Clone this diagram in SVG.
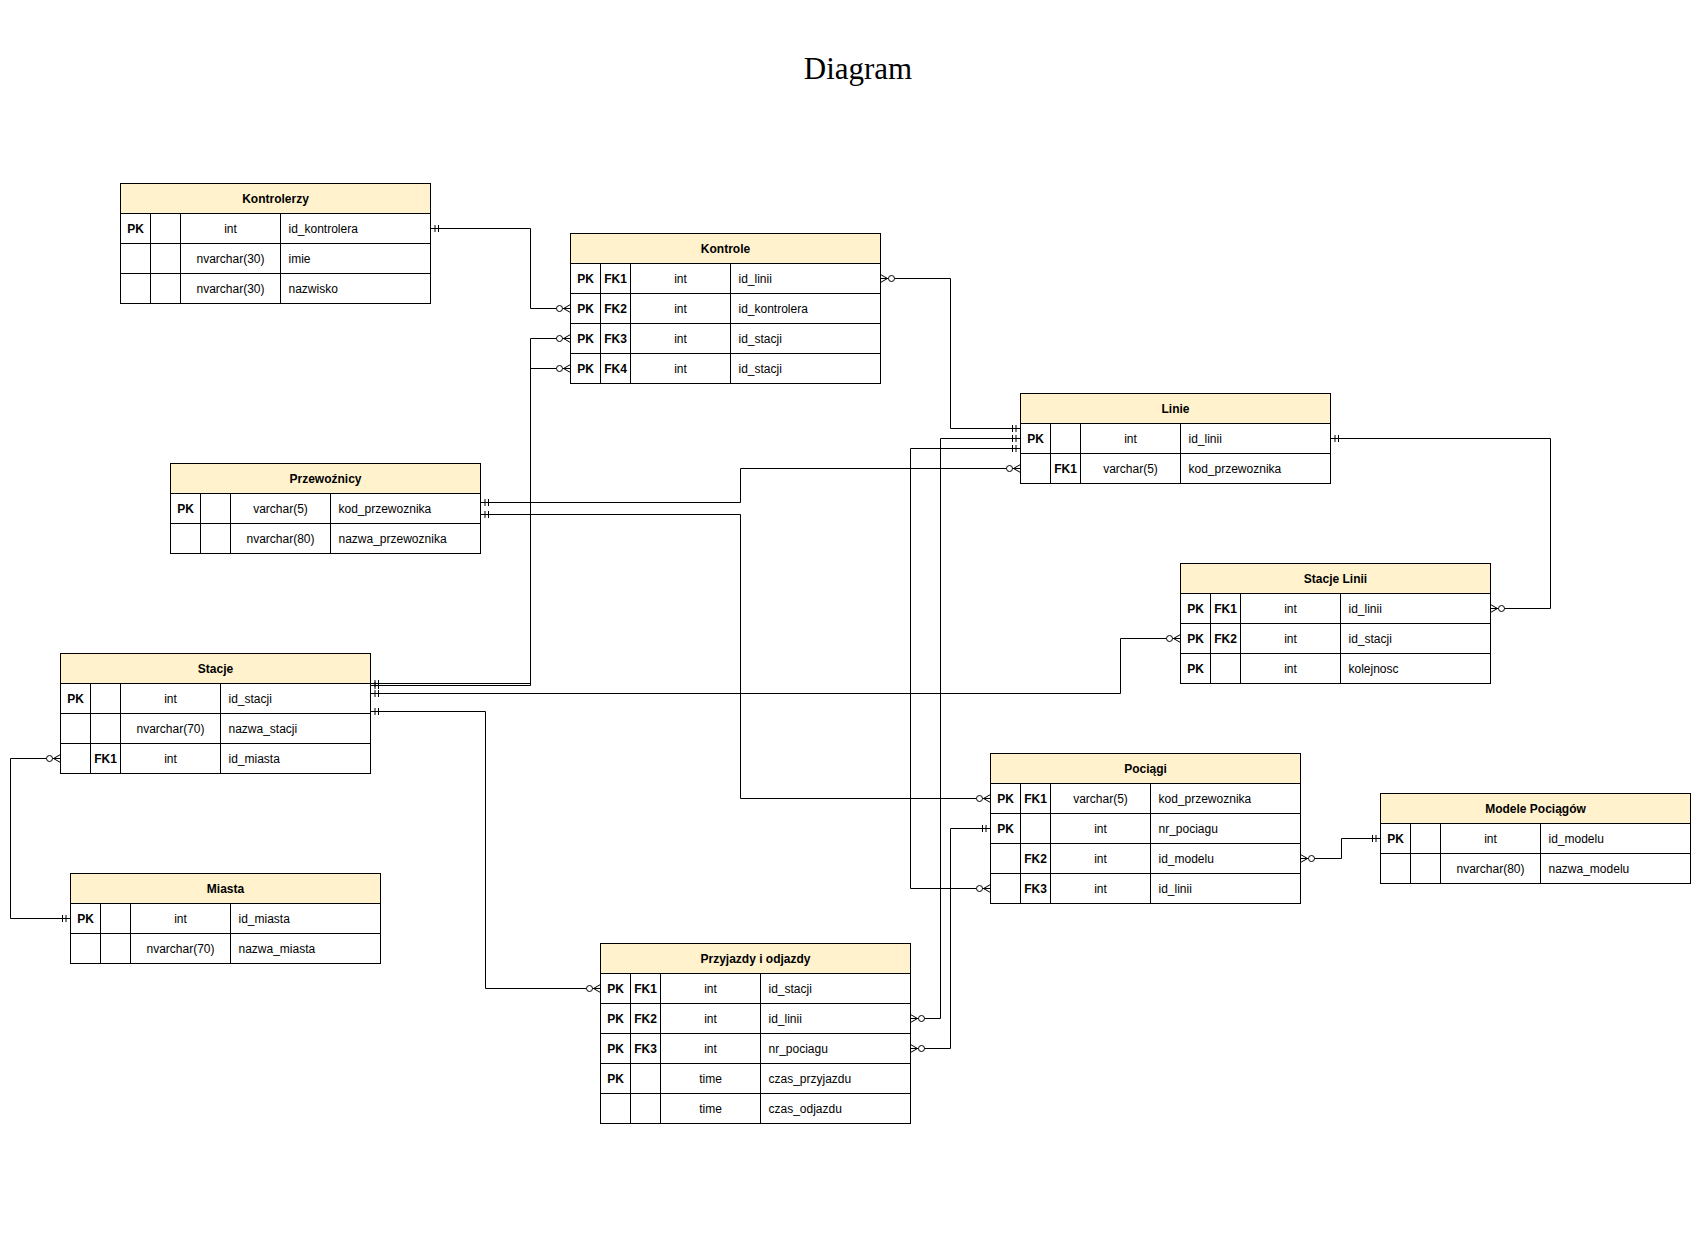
<svg xmlns="http://www.w3.org/2000/svg" width="1700" height="1238" viewBox="0 0 1700 1238">
<style>
.body{fill:#ffffff;stroke:#000000;stroke-width:1}
.head{fill:#fff2cc;stroke:#000000;stroke-width:1}
.grid{fill:none;stroke:#000000;stroke-width:1}
text{font-family:"Liberation Sans",Arial,sans-serif;font-size:12px;fill:#000000}
.ht{font-weight:bold;text-anchor:middle}
.k{font-weight:bold;text-anchor:middle}
.ty{text-anchor:middle}
.nm{text-anchor:start}
.title{font-family:"Liberation Serif","Times New Roman",serif;font-size:31px;text-anchor:middle}
.c{fill:none;stroke:#000000;stroke-width:1}
</style>
<defs>
<marker id="one" viewBox="-15 -10 20 20" markerWidth="20" markerHeight="20" refX="0" refY="0" orient="auto-start-reverse" markerUnits="userSpaceOnUse">
<path d="M-4.5,-3.5 V3.5 M-8,-3.5 V3.5" fill="none" stroke="#000000" stroke-width="1"/>
</marker>
<marker id="many" viewBox="-20 -10 25 20" markerWidth="25" markerHeight="20" refX="0" refY="0" orient="auto-start-reverse" markerUnits="userSpaceOnUse">
<path d="M0,-4 L-7,0 L0,4" fill="none" stroke="#000000" stroke-width="1"/>
<circle cx="-11" cy="0" r="3" fill="#ffffff" stroke="#000000" stroke-width="1"/>
</marker>
</defs>
<rect x="0" y="0" width="1700" height="1238" fill="#ffffff"/>
<text class="title" x="858" y="79">Diagram</text>
<g transform="translate(0.5,0.5)">
<g id="connectors">
<path class="c" d="M430,228 H530 V308 H570" marker-start="url(#one)" marker-end="url(#many)"/>
<path class="c" d="M880,278 H950 V428 H1020" marker-start="url(#many)" marker-end="url(#one)"/>
<path class="c" d="M1020,468 H740 V502 H480" marker-start="url(#many)" marker-end="url(#one)"/>
<path class="c" d="M480,514 H740 V798 H990" marker-start="url(#one)" marker-end="url(#many)"/>
<path class="c" d="M1330,438 H1550 V608 H1490" marker-start="url(#one)" marker-end="url(#many)"/>
<path class="c" d="M370,683 H530 V338 H570" marker-start="url(#one)" marker-end="url(#many)"/>
<path class="c" d="M370,685 H530 V368 H570" marker-start="url(#one)" marker-end="url(#many)"/>
<path class="c" d="M370,693 H1120 V638 H1180" marker-start="url(#one)" marker-end="url(#many)"/>
<path class="c" d="M370,711 H485 V988 H600" marker-start="url(#one)" marker-end="url(#many)"/>
<path class="c" d="M60,758 H10 V918 H70" marker-start="url(#many)" marker-end="url(#one)"/>
<path class="c" d="M1300,858 H1341 V838 H1380" marker-start="url(#many)" marker-end="url(#one)"/>
<path class="c" d="M990,888 H910 V448 H1020" marker-start="url(#many)" marker-end="url(#one)"/>
<path class="c" d="M990,828 H950 V1048 H910" marker-start="url(#one)" marker-end="url(#many)"/>
<path class="c" d="M910,1018 H940 V438 H1020" marker-start="url(#many)" marker-end="url(#one)"/>
</g>

<g id="kontrolerzy" transform="translate(120,183)">
<rect class="body" x="0" y="0" width="310" height="120"/>
<rect class="head" x="0" y="0" width="310" height="30"/>
<path class="grid" d="M0,60H310M0,90H310M30,30V120M60,30V120M160,30V120"/>
<text class="ht" x="155" y="19.5">Kontrolerzy</text>
<text class="k" x="15" y="49">PK</text><text class="ty" x="110" y="49">int</text><text class="nm" x="168" y="49">id_kontrolera</text>
<text class="ty" x="110" y="79">nvarchar(30)</text><text class="nm" x="168" y="79">imie</text>
<text class="ty" x="110" y="109">nvarchar(30)</text><text class="nm" x="168" y="109">nazwisko</text>
</g>

<g id="kontrole" transform="translate(570,233)">
<rect class="body" x="0" y="0" width="310" height="150"/>
<rect class="head" x="0" y="0" width="310" height="30"/>
<path class="grid" d="M0,60H310M0,90H310M0,120H310M30,30V150M60,30V150M160,30V150"/>
<text class="ht" x="155" y="19.5">Kontrole</text>
<text class="k" x="15" y="49">PK</text><text class="k" x="45" y="49">FK1</text><text class="ty" x="110" y="49">int</text><text class="nm" x="168" y="49">id_linii</text>
<text class="k" x="15" y="79">PK</text><text class="k" x="45" y="79">FK2</text><text class="ty" x="110" y="79">int</text><text class="nm" x="168" y="79">id_kontrolera</text>
<text class="k" x="15" y="109">PK</text><text class="k" x="45" y="109">FK3</text><text class="ty" x="110" y="109">int</text><text class="nm" x="168" y="109">id_stacji</text>
<text class="k" x="15" y="139">PK</text><text class="k" x="45" y="139">FK4</text><text class="ty" x="110" y="139">int</text><text class="nm" x="168" y="139">id_stacji</text>
</g>

<g id="linie" transform="translate(1020,393)">
<rect class="body" x="0" y="0" width="310" height="90"/>
<rect class="head" x="0" y="0" width="310" height="30"/>
<path class="grid" d="M0,60H310M30,30V90M60,30V90M160,30V90"/>
<text class="ht" x="155" y="19.5">Linie</text>
<text class="k" x="15" y="49">PK</text><text class="ty" x="110" y="49">int</text><text class="nm" x="168" y="49">id_linii</text>
<text class="k" x="45" y="79">FK1</text><text class="ty" x="110" y="79">varchar(5)</text><text class="nm" x="168" y="79">kod_przewoznika</text>
</g>

<g id="przewoznicy" transform="translate(170,463)">
<rect class="body" x="0" y="0" width="310" height="90"/>
<rect class="head" x="0" y="0" width="310" height="30"/>
<path class="grid" d="M0,60H310M30,30V90M60,30V90M160,30V90"/>
<text class="ht" x="155" y="19.5">Przewoźnicy</text>
<text class="k" x="15" y="49">PK</text><text class="ty" x="110" y="49">varchar(5)</text><text class="nm" x="168" y="49">kod_przewoznika</text>
<text class="ty" x="110" y="79">nvarchar(80)</text><text class="nm" x="168" y="79">nazwa_przewoznika</text>
</g>

<g id="stacje-linii" transform="translate(1180,563)">
<rect class="body" x="0" y="0" width="310" height="120"/>
<rect class="head" x="0" y="0" width="310" height="30"/>
<path class="grid" d="M0,60H310M0,90H310M30,30V120M60,30V120M160,30V120"/>
<text class="ht" x="155" y="19.5">Stacje Linii</text>
<text class="k" x="15" y="49">PK</text><text class="k" x="45" y="49">FK1</text><text class="ty" x="110" y="49">int</text><text class="nm" x="168" y="49">id_linii</text>
<text class="k" x="15" y="79">PK</text><text class="k" x="45" y="79">FK2</text><text class="ty" x="110" y="79">int</text><text class="nm" x="168" y="79">id_stacji</text>
<text class="k" x="15" y="109">PK</text><text class="ty" x="110" y="109">int</text><text class="nm" x="168" y="109">kolejnosc</text>
</g>

<g id="stacje" transform="translate(60,653)">
<rect class="body" x="0" y="0" width="310" height="120"/>
<rect class="head" x="0" y="0" width="310" height="30"/>
<path class="grid" d="M0,60H310M0,90H310M30,30V120M60,30V120M160,30V120"/>
<text class="ht" x="155" y="19.5">Stacje</text>
<text class="k" x="15" y="49">PK</text><text class="ty" x="110" y="49">int</text><text class="nm" x="168" y="49">id_stacji</text>
<text class="ty" x="110" y="79">nvarchar(70)</text><text class="nm" x="168" y="79">nazwa_stacji</text>
<text class="k" x="45" y="109">FK1</text><text class="ty" x="110" y="109">int</text><text class="nm" x="168" y="109">id_miasta</text>
</g>

<g id="pociagi" transform="translate(990,753)">
<rect class="body" x="0" y="0" width="310" height="150"/>
<rect class="head" x="0" y="0" width="310" height="30"/>
<path class="grid" d="M0,60H310M0,90H310M0,120H310M30,30V150M60,30V150M160,30V150"/>
<text class="ht" x="155" y="19.5">Pociągi</text>
<text class="k" x="15" y="49">PK</text><text class="k" x="45" y="49">FK1</text><text class="ty" x="110" y="49">varchar(5)</text><text class="nm" x="168" y="49">kod_przewoznika</text>
<text class="k" x="15" y="79">PK</text><text class="ty" x="110" y="79">int</text><text class="nm" x="168" y="79">nr_pociagu</text>
<text class="k" x="45" y="109">FK2</text><text class="ty" x="110" y="109">int</text><text class="nm" x="168" y="109">id_modelu</text>
<text class="k" x="45" y="139">FK3</text><text class="ty" x="110" y="139">int</text><text class="nm" x="168" y="139">id_linii</text>
</g>

<g id="modele-pociagow" transform="translate(1380,793)">
<rect class="body" x="0" y="0" width="310" height="90"/>
<rect class="head" x="0" y="0" width="310" height="30"/>
<path class="grid" d="M0,60H310M30,30V90M60,30V90M160,30V90"/>
<text class="ht" x="155" y="19.5">Modele Pociągów</text>
<text class="k" x="15" y="49">PK</text><text class="ty" x="110" y="49">int</text><text class="nm" x="168" y="49">id_modelu</text>
<text class="ty" x="110" y="79">nvarchar(80)</text><text class="nm" x="168" y="79">nazwa_modelu</text>
</g>

<g id="miasta" transform="translate(70,873)">
<rect class="body" x="0" y="0" width="310" height="90"/>
<rect class="head" x="0" y="0" width="310" height="30"/>
<path class="grid" d="M0,60H310M30,30V90M60,30V90M160,30V90"/>
<text class="ht" x="155" y="19.5">Miasta</text>
<text class="k" x="15" y="49">PK</text><text class="ty" x="110" y="49">int</text><text class="nm" x="168" y="49">id_miasta</text>
<text class="ty" x="110" y="79">nvarchar(70)</text><text class="nm" x="168" y="79">nazwa_miasta</text>
</g>

<g id="przyjazdy-i-odjazdy" transform="translate(600,943)">
<rect class="body" x="0" y="0" width="310" height="180"/>
<rect class="head" x="0" y="0" width="310" height="30"/>
<path class="grid" d="M0,60H310M0,90H310M0,120H310M0,150H310M30,30V180M60,30V180M160,30V180"/>
<text class="ht" x="155" y="19.5">Przyjazdy i odjazdy</text>
<text class="k" x="15" y="49">PK</text><text class="k" x="45" y="49">FK1</text><text class="ty" x="110" y="49">int</text><text class="nm" x="168" y="49">id_stacji</text>
<text class="k" x="15" y="79">PK</text><text class="k" x="45" y="79">FK2</text><text class="ty" x="110" y="79">int</text><text class="nm" x="168" y="79">id_linii</text>
<text class="k" x="15" y="109">PK</text><text class="k" x="45" y="109">FK3</text><text class="ty" x="110" y="109">int</text><text class="nm" x="168" y="109">nr_pociagu</text>
<text class="k" x="15" y="139">PK</text><text class="ty" x="110" y="139">time</text><text class="nm" x="168" y="139">czas_przyjazdu</text>
<text class="ty" x="110" y="169">time</text><text class="nm" x="168" y="169">czas_odjazdu</text>
</g>
</g>
</svg>
